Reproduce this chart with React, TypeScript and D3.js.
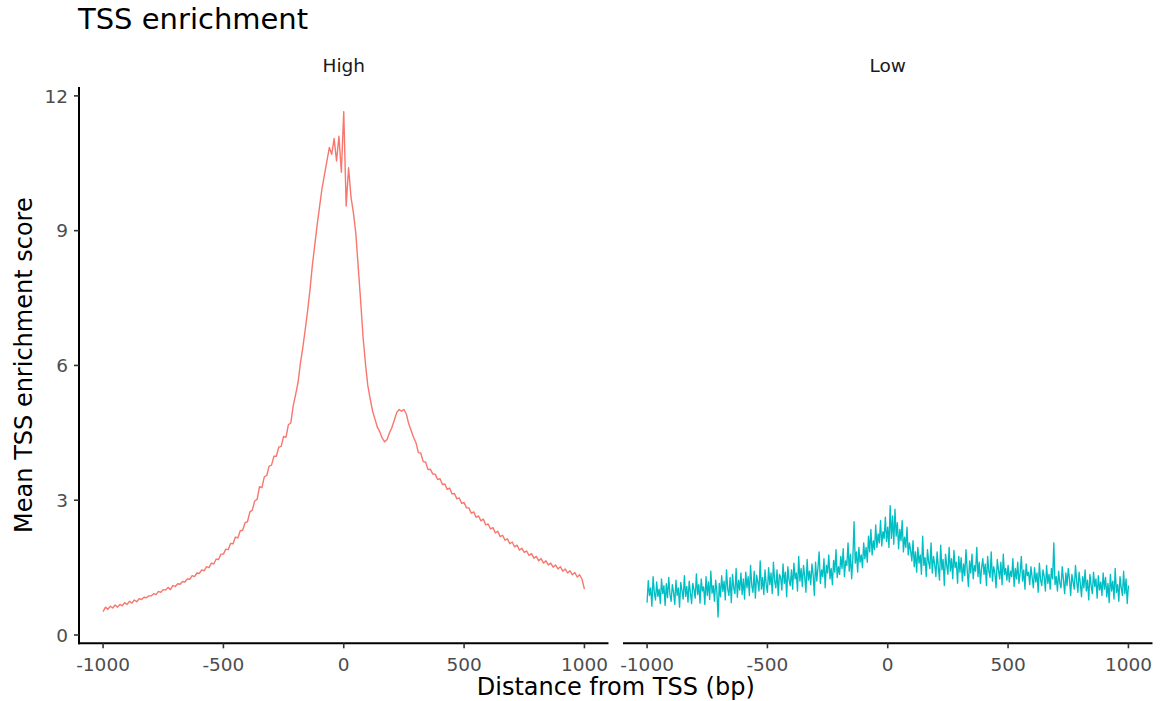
import React from 'react';
import * as d3 from 'd3';

// Mean TSS enrichment, "High" group, every 10 bp from -1000 to 1000
const highValues: number[] = [
  0.52, 0.62, 0.57, 0.64, 0.60, 0.67, 0.62, 0.68, 0.65, 0.72,
  0.68, 0.75, 0.71, 0.78, 0.74, 0.81, 0.79, 0.84, 0.83, 0.87,
  0.87, 0.92, 0.90, 0.97, 0.95, 1.01, 1.00, 1.06, 1.01, 1.10,
  1.08, 1.14, 1.13, 1.19, 1.18, 1.25, 1.24, 1.32, 1.30, 1.38,
  1.37, 1.45, 1.43, 1.52, 1.50, 1.60, 1.58, 1.69, 1.68, 1.80,
  1.80, 1.91, 1.90, 2.04, 2.03, 2.18, 2.16, 2.32, 2.33, 2.50,
  2.52, 2.74, 2.78, 2.98, 3.02, 3.30, 3.28, 3.52, 3.55, 3.76,
  3.78, 3.98, 3.98, 4.18, 4.20, 4.42, 4.40, 4.68, 4.72, 5.10,
  5.35, 5.62, 6.05, 6.40, 6.80, 7.22, 7.70, 8.25, 8.70, 9.15,
  9.55, 9.95, 10.25, 10.55, 10.85, 10.70, 11.05, 10.55, 11.10, 10.30,
  11.65, 9.55, 10.40, 9.75, 9.40, 8.95, 8.20, 7.45, 6.65, 6.05,
  5.55, 5.25, 4.98, 4.80, 4.62, 4.52, 4.38, 4.30, 4.35, 4.50,
  4.62, 4.78, 4.95, 5.02, 4.98, 5.02, 4.92, 4.70, 4.55, 4.40,
  4.28, 4.06, 4.05, 3.86, 3.85, 3.68, 3.69, 3.58, 3.58, 3.46,
  3.48, 3.35, 3.36, 3.24, 3.27, 3.14, 3.15, 3.03, 3.05, 2.93,
  2.95, 2.83, 2.83, 2.71, 2.74, 2.62, 2.65, 2.54, 2.58, 2.45,
  2.47, 2.36, 2.39, 2.27, 2.31, 2.19, 2.22, 2.11, 2.14, 2.03,
  2.07, 1.96, 2.00, 1.89, 1.93, 1.84, 1.87, 1.77, 1.81, 1.71,
  1.75, 1.65, 1.70, 1.60, 1.65, 1.56, 1.60, 1.51, 1.56, 1.47,
  1.52, 1.42, 1.47, 1.38, 1.43, 1.34, 1.39, 1.29, 1.34, 1.24,
  1.02,
];

// Mean TSS enrichment, "Low" group, every 5 bp from -1000 to 1000
const lowValues: number[] = [
  0.72, 1.21, 0.88, 1.05, 0.64, 1.30, 0.95, 0.78, 1.18, 0.86, 1.02, 0.70, 1.25, 0.92, 1.10, 0.66, 1.14, 0.83, 1.28, 0.90,
  0.75, 1.12, 0.95, 0.68, 1.22, 0.88, 1.05, 0.62, 1.17, 0.99, 0.80, 1.32, 0.86, 1.08, 0.73, 1.20, 0.94, 0.70, 1.15, 1.01,
  0.82, 1.36, 0.90, 1.12, 0.71, 1.25, 0.98, 1.07, 0.68, 1.30, 0.88, 1.18, 0.79, 1.42, 0.93, 1.10, 0.75, 1.22, 0.96, 0.40,
  1.15, 0.85, 1.32, 0.97, 1.20, 0.78, 1.45, 1.02, 0.88, 1.28, 0.72, 1.35, 1.05, 0.92, 1.48, 0.84, 1.22, 1.00, 1.38, 0.90,
  1.25, 0.80, 1.40, 1.05, 1.30, 0.88, 1.55, 1.10, 0.95, 1.42, 0.82, 1.33, 1.18, 0.98, 1.65, 1.02, 1.28, 0.90, 1.45, 1.12,
  0.95, 1.50, 1.12, 1.38, 0.92, 1.62, 1.20, 1.05, 1.45, 0.88, 1.35, 1.28, 1.00, 1.58, 1.15, 1.40, 0.85, 1.52, 1.22, 1.10,
  1.45, 1.02, 1.60, 1.25, 1.38, 0.98, 1.75, 1.20, 1.48, 1.08, 1.55, 1.30, 0.95, 1.68, 1.22, 1.42, 1.12, 1.58, 1.35, 0.88,
  1.62, 1.20, 1.50, 1.85, 1.15, 1.45, 1.30, 1.70, 1.05, 1.55, 1.38, 1.78, 1.25, 1.48, 1.12, 1.66, 1.40, 1.90, 1.28, 1.52,
  1.35, 1.75, 1.48, 1.92, 1.30, 1.65, 1.55, 2.05, 1.42, 1.80, 1.25, 1.70, 2.52, 1.60, 1.85, 1.40, 1.95, 1.62, 1.78, 1.50,
  2.05, 1.70, 1.95, 1.62, 2.20, 1.85, 2.35, 1.78, 2.10, 1.90, 2.45, 1.95, 2.25, 2.05, 2.55, 1.98, 2.30, 2.15, 2.62, 2.08,
  2.40, 1.95, 2.88, 2.15, 2.65, 2.02, 2.80, 2.20, 2.50, 1.92, 2.35, 2.10, 2.55, 1.85, 2.18, 1.95, 2.40, 1.78, 2.05, 1.88,
  1.65, 2.10, 1.52, 1.85, 1.40, 1.95, 1.60, 1.78, 1.35, 2.20, 1.55, 1.72, 1.30, 1.90, 1.62, 1.48, 2.05, 1.38, 1.75, 1.58,
  1.30, 1.85, 1.52, 1.22, 2.00, 1.45, 1.68, 1.10, 1.80, 1.55, 1.35, 1.95, 1.42, 1.70, 1.25, 1.88, 1.50, 1.62, 1.15, 1.75,
  1.40, 1.72, 1.20, 1.58, 1.32, 1.90, 1.45, 1.08, 1.65, 1.38, 1.80, 1.25, 1.55, 1.42, 1.95, 1.30, 1.62, 1.15, 1.50, 1.70,
  1.35, 1.58, 1.10, 1.75, 1.42, 1.28, 1.85, 1.20, 1.52, 1.38, 1.05, 1.68, 1.45, 1.25, 1.62, 1.12, 1.80, 1.35, 1.48, 1.22,
  1.55, 1.18, 1.42, 1.30, 1.70, 1.08, 1.48, 1.25, 1.62, 1.15, 1.38, 1.75, 1.20, 1.45, 1.02, 1.58, 1.32, 1.40, 1.12, 1.52,
  1.28, 1.05, 1.50, 1.18, 1.38, 0.95, 1.60, 1.22, 1.10, 1.45, 1.30, 0.98, 1.55, 1.15, 1.35, 1.02, 1.48, 1.25, 2.05, 1.12,
  1.30, 0.98, 1.42, 1.15, 1.05, 1.52, 1.22, 0.92, 1.38, 1.10, 1.48, 1.25, 0.88, 1.35, 1.18, 1.02, 1.55, 1.20, 0.95, 1.40,
  1.15, 0.85, 1.30, 1.05, 1.45, 0.98, 1.22, 0.78, 1.35, 1.10, 0.92, 1.40, 1.08, 1.25, 0.82, 1.32, 1.00, 1.18, 0.88, 1.38,
  1.02, 1.28, 0.85, 1.15, 0.72, 1.35, 0.98, 1.20, 0.80, 1.48, 0.95, 1.12, 0.75, 1.30, 1.05, 0.88, 1.42, 0.92, 1.25, 0.70,
  1.10,
];

const facetLabels = ['High', 'Low'];
const facetColors = ['#F8766D', '#00BFC4'];
const xStart = -1000;
const highStep = 10;
const lowStep = 5;
const xTicks = [-1000, -500, 0, 500, 1000];
const yTicks = [0, 3, 6, 9, 12];

const FONT = "'DejaVu Sans', 'Liberation Sans', sans-serif";

export default function App() {
  const W = 1165;
  const H = 701;
  const panelX: [number, number][] = [
    [79, 608.5],
    [623, 1152.5],
  ];
  const y = d3.scaleLinear().domain([-0.185, 12.2]).range([643.3, 86.9]);
  const yBottom = y(-0.185);
  const yTop = y(12.2);

  const series = [
    { values: highValues, step: highStep, width: 1.4 },
    { values: lowValues, step: lowStep, width: 1.35 },
  ];

  return (
    <svg
      width={W}
      height={H}
      style={{ position: 'absolute', left: 0, top: 0, background: '#fff' }}
      fontFamily={FONT}
    >
      <rect x={0} y={0} width={W} height={H} fill="#fff" />
      <text x={78} y={28.5} fontSize={29} fill="#000">
        TSS enrichment
      </text>

      {panelX.map((range, pi) => {
        const x = d3.scaleLinear().domain([-1100, 1100]).range(range);
        const s = series[pi];
        const line = d3
          .line<number>()
          .x((_, i) => x(xStart + i * s.step))
          .y((v) => y(v));
        return (
          <g key={pi}>
            <text
              x={(range[0] + range[1]) / 2}
              y={72}
              fontSize={18.5}
              fill="#1a1a1a"
              textAnchor="middle"
            >
              {facetLabels[pi]}
            </text>
            <path
              d={line(s.values) || ''}
              fill="none"
              stroke={facetColors[pi]}
              strokeWidth={s.width}
              strokeLinejoin="round"
            />
            {/* x axis */}
            <line
              x1={range[0] - (pi === 0 ? 1 : 0)}
              x2={range[1]}
              y1={yBottom}
              y2={yBottom}
              stroke="#000"
              strokeWidth={2}
            />
            {xTicks.map((t) => (
              <g key={t}>
                <line
                  x1={x(t)}
                  x2={x(t)}
                  y1={yBottom}
                  y2={yBottom + 5}
                  stroke="#333"
                  strokeWidth={1.6}
                />
                <text
                  x={x(t)}
                  y={671}
                  fontSize={18.5}
                  fill="#4d4d4d"
                  textAnchor="middle"
                >
                  {t}
                </text>
              </g>
            ))}
            {pi === 0 && (
              <g>
                <line
                  x1={range[0]}
                  x2={range[0]}
                  y1={yTop}
                  y2={yBottom + 1}
                  stroke="#000"
                  strokeWidth={2}
                />
                {yTicks.map((t) => (
                  <g key={t}>
                    <line
                      x1={range[0] - 5}
                      x2={range[0]}
                      y1={y(t)}
                      y2={y(t)}
                      stroke="#333"
                      strokeWidth={1.6}
                    />
                    <text
                      x={68}
                      y={y(t)}
                      dy="0.36em"
                      fontSize={18.5}
                      fill="#4d4d4d"
                      textAnchor="end"
                    >
                      {t}
                    </text>
                  </g>
                ))}
              </g>
            )}
          </g>
        );
      })}

      <text x={615.75} y={695} fontSize={24} fill="#000" textAnchor="middle">
        Distance from TSS (bp)
      </text>
      <text
        transform={`translate(32, ${(yTop + yBottom) / 2}) rotate(-90)`}
        fontSize={24}
        fill="#000"
        textAnchor="middle"
      >
        Mean TSS enrichment score
      </text>
    </svg>
  );
}
